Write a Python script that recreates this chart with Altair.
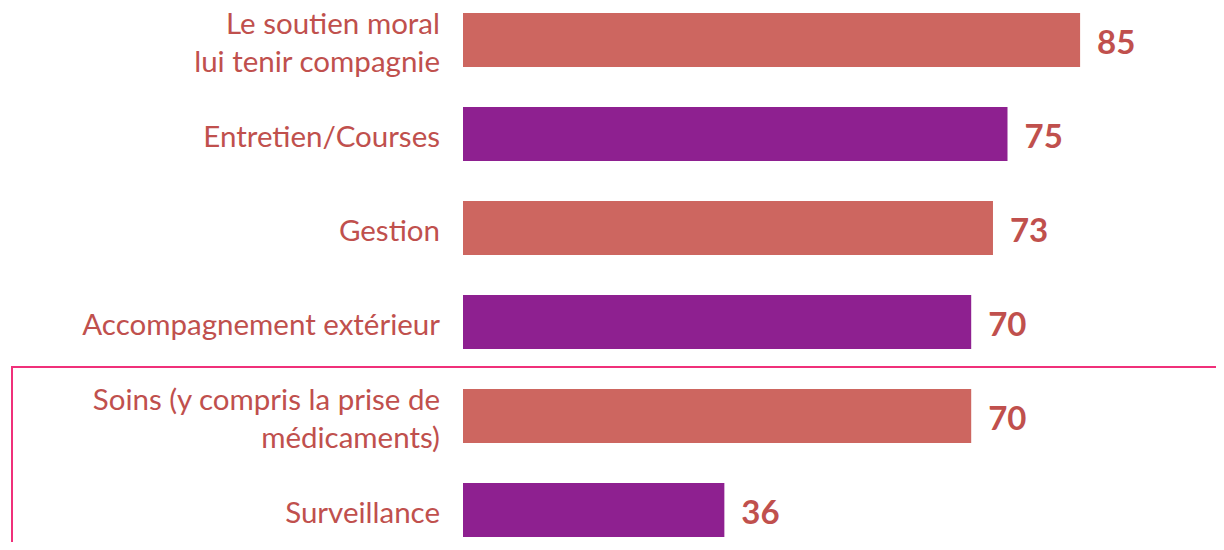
import altair as alt
import pandas as pd

categories = [
    "Le soutien moral\nlui tenir compagnie",
    "Entretien/Courses",
    "Gestion",
    "Accompagnement extérieur",
    "Soins (y compris la prise de\nmédicaments)",
    "Surveillance",
]
values = [85, 75, 73, 70, 70, 36]
groups = ["a", "b", "a", "b", "a", "b"]

df = pd.DataFrame({"cat": categories, "val": values, "grp": groups})
df["nlines"] = df["cat"].str.count("\n") + 1

text_color = "#C0504D"

y = alt.Y("cat:N", sort=categories, axis=None,
          scale=alt.Scale(paddingInner=0.4255, paddingOuter=0.053))
x = alt.X("val:Q", axis=None, scale=alt.Scale(domain=[0, 100]))

bars = alt.Chart(df).mark_bar().encode(
    y=y, x=x,
    color=alt.Color("grp:N", scale=alt.Scale(domain=["a", "b"], range=["#CD6660", "#8E2090"]), legend=None),
)

vals = alt.Chart(df).mark_text(
    align="left", baseline="middle", dx=17, dy=4, font="Lato", fontSize=33, fontWeight="bold", color=text_color
).encode(y=y, x=x, text="val:Q")

label_base = alt.Chart(df).transform_calculate(
    lines="split(datum.cat, '\\n')"
)
labels1 = label_base.transform_filter("datum.nlines == 1").mark_text(
    align="right", baseline="middle", font="Lato", fontSize=29.5, color=text_color, lineHeight=38, dy=4
).encode(y=y, x=alt.value(-23), text="lines:N")
labels2 = label_base.transform_filter("datum.nlines == 2").mark_text(
    align="right", baseline="middle", font="Lato", fontSize=29.5, color=text_color, lineHeight=38, dy=-15
).encode(y=y, x=alt.value(-23), text="lines:N")

frame = alt.Chart(df).mark_rect(fill=None, stroke="#F0307A", strokeWidth=2).encode(
    x=alt.value(-451), x2=alt.value(800), y=alt.value(359), y2=alt.value(700)
)

chart = alt.layer(frame, bars, vals, labels1, labels2).properties(
    width=726, height=534,
    autosize=alt.AutoSizeParams(type="none"),
    padding={"left": 455, "top": 0, "right": 27, "bottom": 0},
).configure_view(stroke=None)

chart.save("out.html", embed_options={"renderer": "svg", "actions": False})
